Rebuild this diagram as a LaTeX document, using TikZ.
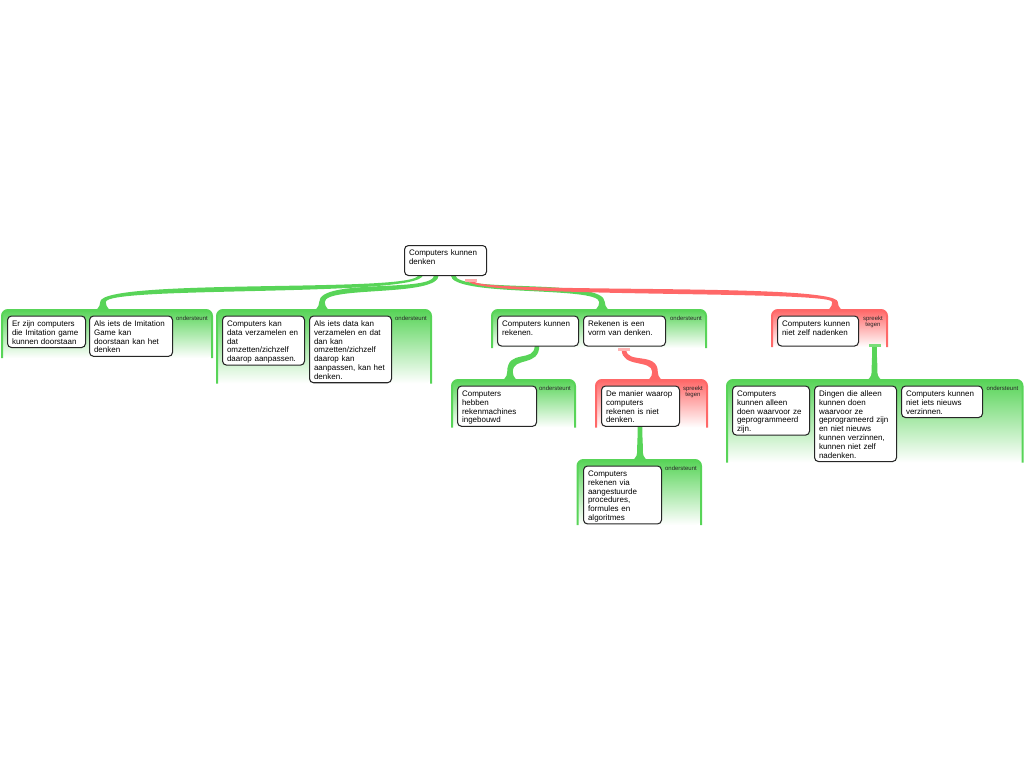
\documentclass[tikz,border=0pt]{standalone}
\usepackage{fontspec}
\setmainfont{Liberation Sans}
\usetikzlibrary{calc}
\definecolor{grn}{RGB}{88,212,88}
\definecolor{rd}{RGB}{255,104,104}
\pgfdeclarelayer{grplayer}
\pgfdeclarelayer{connlayer}
\pgfsetlayers{grplayer,connlayer,main}
\def\brA{2.3}\def\brB{2.8}\def\brW{11}\def\brF{9}\def\brdA{2}\def\brdB{4}
\tikzset{
  arg/.style={draw=black!85, line width=1.05pt, rounded corners=4pt, fill=white,
    anchor=north west, align=left, inner xsep=4.5pt, inner ysep=4pt,
    text height=6.4pt, font=\fontsize{8}{8.8}\selectfont},
  lbl/.style={inner sep=0pt, anchor=north east, align=center, text=black!85,
    font=\fontsize{6}{6.5}\selectfont},
}
\newcommand\mkgroup[6]{%
  \node[inner sep=0pt, outer sep=0pt, anchor=north west, minimum width=#5pt,
    minimum height=#6pt, rounded corners=6pt, top color=#2, bottom color=white,
    draw=none] (#1) at (#3,#4) {};
  \draw[#2, line width=2pt, rounded corners=6pt]
    (#1.south west) -- (#1.north west) -- (#1.north east) -- (#1.south east);
}
\newcommand\branch[3]{%
  \fill[#1] let \p1=(#2), \p2=(#3), \n1={sign(\x2-\x1)},
    \n2={0.75*(\y1-\y2-\brF)}, \n3={\n1*\brdA}, \n4={\n1*\brdB} in
    ({\x1-\brA},{\y1})
    .. controls ({\x1-\brA},{\y1-\n2-\n3}) and ({\x2-\brB},{\y2+\brF+\n2-\n4}) .. ({\x2-\brB},{\y2+\brF})
    .. controls ({\x2-\brB},{\y2+0.45*\brF}) and ({\x2-\brB-0.45*\brW+0.45*\brB},{\y2}) .. ({\x2-\brW},{\y2})
    -- ({\x2+\brW},{\y2})
    .. controls ({\x2+\brB+0.45*\brW-0.45*\brB},{\y2}) and ({\x2+\brB},{\y2+0.45*\brF}) .. ({\x2+\brB},{\y2+\brF})
    .. controls ({\x2+\brB},{\y2+\brF+\n2+\n4}) and ({\x1+\brA},{\y1-\n2+\n3}) .. ({\x1+\brA},{\y1})
    -- cycle;}
\newcommand\tbar[2]{\fill[#1] ($(#2)+(-6,-1.2)$) rectangle ($(#2)+(6,1.2)$);}
\begin{document}
\begin{tikzpicture}[x=1pt,y=-1pt]
\useasboundingbox (0,0) rectangle (1024,768);
\begin{pgfonlayer}{grplayer}
\mkgroup{g1}{grn}{2}{310}{210}{48}
\mkgroup{g2}{grn}{217}{310}{214}{73.5}
\mkgroup{g3}{grn}{492}{310}{214}{38}
\mkgroup{g7}{rd}{772}{310}{115}{37}
\mkgroup{g4}{grn}{452}{380}{123}{47.5}
\mkgroup{g5}{rd}{596}{380}{111}{47.5}
\mkgroup{g6}{grn}{577.5}{460}{123.5}{65}
\mkgroup{g8}{grn}{727}{380}{295.5}{82.5}
\end{pgfonlayer}

\node[arg, text width=73pt, text depth=15.6pt] (root) at (404,245) {Computers kunnen\\denken};
\node[arg, text width=69pt, text depth=17.1pt] (n11) at (7,315.5) {Er zijn computers\\die Imitation game\\kunnen doorstaan};
\node[arg, text width=74pt, text depth=25.9pt] (n12) at (89,315.5) {Als iets de Imitation\\Game kan\\doorstaan kan het\\denken};
\node[arg, text width=73pt, text depth=34.7pt] (n21) at (222,315.5) {Computers kan\\data verzamelen en\\dat\\omzetten/zichzelf\\daarop aanpassen.};
\node[arg, text width=73pt, text depth=52.3pt] (n22) at (309,315.5) {Als iets data kan\\verzamelen en dat\\dan kan\\omzetten/zichzelf\\daarop kan\\aanpassen, kan het\\denken.};
\node[arg, text width=72pt, text depth=15.6pt] (n31) at (497,315.5) {Computers kunnen\\rekenen.};
\node[arg, text width=73pt, text depth=15.6pt] (n32) at (583,315.5) {Rekenen is een\\vorm van denken.};
\node[arg, text width=72pt, text depth=15.6pt] (n71) at (777,315.5) {Computers kunnen\\niet zelf nadenken};
\node[arg, text width=70pt, text depth=25.9pt] (n41) at (457,385.5) {Computers\\hebben\\rekenmachines\\ingebouwd};
\node[arg, text width=69pt, text depth=25.9pt] (n51) at (601,385.5) {De manier waarop\\computers\\rekenen is niet\\denken.};
\node[arg, text width=69pt, text depth=43.5pt] (n61) at (583,465.5) {Computers\\rekenen via\\aangestuurde\\procedures,\\formules en\\algoritmes};
\node[arg, text width=68pt, text depth=34.7pt] (n81) at (732,385.5) {Computers\\kunnen alleen\\doen waarvoor ze\\geprogrammeerd\\zijn.};
\node[arg, text width=73pt, text depth=61.1pt] (n82) at (814,385.5) {Dingen die alleen\\kunnen doen\\waarvoor ze\\geprogrameerd zijn\\en niet nieuws\\kunnen verzinnen,\\kunnen niet zelf\\nadenken.};
\node[arg, text width=72pt, text depth=17.1pt] (n83) at (901,385.5) {Computers kunnen\\niet iets nieuws\\verzinnen.};

\node[lbl] (l1) at ($(g1.north east)+(-4,5.5)$) {ondersteunt};
\node[lbl] (l2) at ($(g2.north east)+(-4,5.5)$) {ondersteunt};
\node[lbl] (l3) at ($(g3.north east)+(-4,5.5)$) {ondersteunt};
\node[lbl] (l4) at ($(g4.north east)+(-4,5.5)$) {ondersteunt};
\node[lbl] (l5) at ($(g5.north east)+(-4,5.5)$) {spreekt\\tegen};
\node[lbl] (l6) at ($(g6.north east)+(-4,5.5)$) {ondersteunt};
\node[lbl] (l7) at ($(g7.north east)+(-4,5.5)$) {spreekt\\tegen};
\node[lbl] (l8) at ($(g8.north east)+(-4,5.5)$) {ondersteunt};

\coordinate (b4) at ($(root.south west)+(66.5,4.5)$);
\coordinate (b6) at ($(n32.south west)+(41,3)$);
\coordinate (b8) at ($(g7.south east)+(-12.5,-1.5)$);

\begin{pgfonlayer}{connlayer}
\branch{grn}{$(root.south west)+(16.5,-1)$}{$(g1.north west)+(101,1)$}
\branch{grn}{$(root.south west)+(32.5,-1)$}{$(g2.north west)+(105,1)$}
\branch{grn}{$(root.south west)+(49,-1)$}{$(g3.north west)+(110,1)$}
\branch{rd}{b4}{$(g7.north west)+(63,1)$}
\branch{grn}{$(n31.south west)+(40,-1)$}{$(g4.north west)+(58,1)$}
\branch{rd}{b6}{$(g5.north west)+(59,1)$}
\branch{grn}{$(n51.south west)+(39,-1)$}{$(g6.north west)+(62.5,1)$}
\branch{grn}{b8}{$(g8.north west)+(147.5,1)$}
\tbar{rd!55}{b4}
\tbar{rd!50}{b6}
\tbar{grn!80}{b8}
\end{pgfonlayer}
\end{tikzpicture}
\end{document}
